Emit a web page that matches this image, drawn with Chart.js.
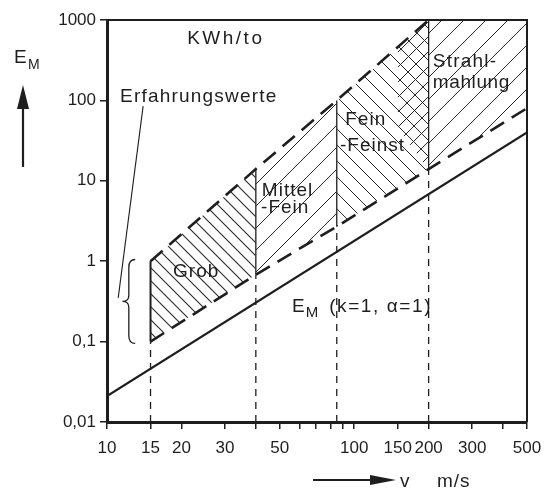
<!DOCTYPE html>
<html>
<head>
<meta charset="utf-8">
<script src="https://cdn.jsdelivr.net/npm/chart.js@4.4.1/dist/chart.umd.min.js"></script>
<style>
  html, body { margin: 0; padding: 0; background: #fff; }
  canvas { display: block; }
</style>
</head>
<body>
<canvas id="c" width="544" height="492"></canvas>
<script>
(function () {
  "use strict";
  // v in m/s, E_M in KWh/to
  const xTicks = [10, 15, 20, 30, 40, 50, 60, 70, 80, 90, 100, 150, 200, 300, 400, 500];
  const xLabels = [10, 15, 20, 30, 50, 100, 150, 200, 300, 500];
  const yTicks = [0.01, 0.1, 1, 10, 100, 1000];
  const yLabels = ["0,01", "0,1", "1", "10", "100", "1000"];

  // region edges (Grob | Mittel-Fein | Fein-Feinst | Strahlmahlung) and the dashed bounds there
  const edgeV = [15, 40, 85, 200, 500];
  const upperE = [1, 14, 100, 1000, 1000];
  const lowerE = [0.1, 0.68, 2.7, 14, 80];

  // E_M (k=1, a=1)
  const theoryV = [10, 500];
  const theoryE = [0.021, 40];

  // where the Strahlmahlung hatch runs over into Fein-Feinst
  const crossV = [150, 200];
  const crossUpper = [460, 1000];
  const crossLower = [45, 14];

  const ink = "#1e1e1e";
  const FONT = '"Liberation Sans", Arial, sans-serif';
  const canvas = document.getElementById("c");
  const cx = canvas.getContext("2d");

  function hatch(dir, s, lw) {
    const c = document.createElement("canvas");
    c.width = c.height = s;
    const g = c.getContext("2d");
    g.strokeStyle = "#2a2a2a";
    g.lineWidth = lw;
    g.beginPath();
    if (dir === "/") {
      g.moveTo(0, s); g.lineTo(s, 0);
      g.moveTo(-1, 1); g.lineTo(1, -1);
      g.moveTo(s - 1, s + 1); g.lineTo(s + 1, s - 1);
    } else {
      g.moveTo(0, 0); g.lineTo(s, s);
      g.moveTo(-1, s - 1); g.lineTo(1, s + 1);
      g.moveTo(s - 1, -1); g.lineTo(s + 1, 1);
    }
    g.stroke();
    return cx.createPattern(c, "repeat");
  }
  const patterns = [hatch("\\", 13, 1.1), hatch("/", 22, 1), hatch("\\", 16, 1), hatch("/", 22, 1)];
  const crossPattern = hatch("/", 15, 1);

  const pts = (vs, es) => vs.map((v, i) => ({ x: v, y: es[i] }));
  const line = (data, extra) =>
    Object.assign(
      { data, borderColor: ink, borderWidth: 1.3, pointRadius: 0, fill: false, tension: 0 },
      extra || {},
    );

  const datasets = [];
  for (let i = 0; i < 4; i++) {
    const vs = [edgeV[i], edgeV[i + 1]];
    datasets.push(line(pts(vs, [lowerE[i], lowerE[i + 1]]), { borderColor: "transparent" }));
    datasets.push(
      line(pts(vs, [upperE[i], upperE[i + 1]]), {
        borderColor: "transparent",
        fill: "-1",
        backgroundColor: patterns[i],
      }),
    );
  }
  datasets.push(line(pts(crossV, crossLower), { borderColor: "transparent" }));
  datasets.push(
    line(pts(crossV, crossUpper), { borderColor: "transparent", fill: "-1", backgroundColor: crossPattern }),
  );

  // bounds of the experience values
  datasets.push(line(pts(edgeV.slice(0, 4), upperE.slice(0, 4)), { borderWidth: 2.6, borderDash: [16, 9] }));
  datasets.push(line(pts(edgeV, lowerE), { borderWidth: 2.6, borderDash: [16, 9] }));
  // theoretical line
  datasets.push(line(pts(theoryV, theoryE), { borderWidth: 2.2 }));
  // region separators: solid inside the band, dashed below it
  for (let i = 0; i < 4; i++) {
    const v = edgeV[i];
    datasets.push(line(pts([v, v], [lowerE[i], upperE[i]]), { borderWidth: i === 0 ? 2 : 1.3 }));
    datasets.push(line(pts([v, v], [0.01, lowerE[i]]), { borderWidth: 1.3, borderDash: [7, 6] }));
  }

  const notes = [
    { t: "KWh/to", v: 21.1, e: 590, sp: 2.5 },
    { t: "Erfahrungswerte", v: 11.3, e: 112, sp: 1.2 },
    { t: "Grob", v: 18.5, e: 0.73, sp: 1 },
    { t: "Mittel", v: 42.3, e: 7.6, sp: 1 },
    { t: "-Fein", v: 42.0, e: 4.6, sp: 1 },
    { t: "Fein", v: 92, e: 57, sp: 1 },
    { t: "-Feinst", v: 87.6, e: 27, sp: 1 },
    { t: "Strahl-", v: 208, e: 300, sp: 1.2 },
    { t: "mahlung", v: 208, e: 165, sp: 0.6 },
  ];

  const decor = {
    id: "decor",
    afterDraw(chart) {
      const { ctx, chartArea: a, scales } = chart;
      const px = (v) => scales.x.getPixelForValue(v);
      const py = (e) => scales.y.getPixelForValue(e);
      ctx.save();
      ctx.strokeStyle = ink;
      ctx.fillStyle = ink;
      // top and right edge of the frame
      ctx.lineWidth = 2;
      ctx.beginPath();
      ctx.moveTo(a.left, a.top);
      ctx.lineTo(a.right, a.top);
      ctx.lineTo(a.right, a.bottom);
      ctx.stroke();

      ctx.textBaseline = "middle";
      ctx.textAlign = "left";
      ctx.font = "19px " + FONT;
      notes.forEach((n) => {
        ctx.letterSpacing = n.sp + "px";
        ctx.fillText(n.t, px(n.v), py(n.e));
      });

      // E_M (k=1, a=1)
      let x0 = px(56), y0 = py(0.27);
      ctx.letterSpacing = "1px";
      ctx.font = "19px " + FONT;
      ctx.fillText("E", x0, y0);
      x0 += ctx.measureText("E").width;
      ctx.font = "15px " + FONT;
      ctx.fillText("M", x0, y0 + 6);
      x0 += ctx.measureText("M").width + 10;
      ctx.font = "19px " + FONT;
      ctx.letterSpacing = "1.6px";
      ctx.fillText("(k=1, \u03b1=1)", x0, y0);

      // pointer of Erfahrungswerte
      ctx.lineWidth = 1.1;
      ctx.beginPath();
      ctx.moveTo(px(14), py(85));
      ctx.lineTo(px(11.1), py(0.35));
      ctx.stroke();

      // brace for Grob
      const xr = px(13), xt = px(11.55), xm = (xr + xt) / 2;
      const y1 = py(1.05), y2 = py(0.095), ym = (y1 + y2) / 2;
      ctx.lineWidth = 1.3;
      ctx.beginPath();
      ctx.moveTo(xr, y1);
      ctx.quadraticCurveTo(xm, y1, xm, y1 + 8);
      ctx.lineTo(xm, ym - 6);
      ctx.quadraticCurveTo(xm, ym, xt, ym);
      ctx.quadraticCurveTo(xm, ym, xm, ym + 6);
      ctx.lineTo(xm, y2 - 8);
      ctx.quadraticCurveTo(xm, y2, xr, y2);
      ctx.stroke();

      // axis titles with arrows
      ctx.textBaseline = "alphabetic";
      ctx.letterSpacing = "0px";
      ctx.font = "19px " + FONT;
      ctx.fillText("E", 14, 63);
      ctx.font = "14px " + FONT;
      ctx.fillText("M", 28, 69);
      ctx.lineWidth = 2.2;
      ctx.beginPath();
      ctx.moveTo(23, 167);
      ctx.lineTo(23, 104);
      ctx.stroke();
      ctx.beginPath();
      ctx.moveTo(17, 109);
      ctx.lineTo(23, 85);
      ctx.lineTo(29, 109);
      ctx.closePath();
      ctx.fill();

      ctx.beginPath();
      ctx.moveTo(313, 480);
      ctx.lineTo(378, 480);
      ctx.stroke();
      ctx.beginPath();
      ctx.moveTo(370, 475);
      ctx.lineTo(396, 480);
      ctx.lineTo(370, 485);
      ctx.closePath();
      ctx.fill();
      ctx.font = "19px " + FONT;
      ctx.letterSpacing = "1px";
      ctx.fillText("v", 400, 487);
      ctx.fillText("m/s", 437, 487);
      ctx.restore();
    },
  };

  const tickFont = { family: FONT, size: 17 };

  new Chart(canvas, {
    type: "line",
    data: { datasets },
    options: {
      responsive: false,
      animation: false,
      devicePixelRatio: 1,
      layout: { padding: { left: 0, top: 20, right: 17, bottom: 0 } },
      plugins: { legend: { display: false }, tooltip: { enabled: false } },
      scales: {
        x: {
          type: "logarithmic",
          min: 10,
          max: 500,
          afterBuildTicks: (s) => {
            s.ticks = xTicks.map((v) => ({ value: v }));
          },
          afterFit: (s) => {
            s.height = 70;
            s.paddingLeft = 0;
            s.paddingRight = 0;
          },
          ticks: {
            autoSkip: false,
            maxRotation: 0,
            padding: 9,
            color: ink,
            font: tickFont,
            callback: (v) => (xLabels.includes(v) ? String(v) : ""),
          },
          grid: { drawOnChartArea: false, drawTicks: true, tickLength: 7, color: ink, lineWidth: 1.5 },
          border: { color: ink, width: 3 },
        },
        y: {
          type: "logarithmic",
          min: 0.01,
          max: 1000,
          afterBuildTicks: (s) => {
            s.ticks = yTicks.map((v) => ({ value: v }));
          },
          afterFit: (s) => {
            s.width = 107;
            s.paddingTop = 0;
            s.paddingBottom = 0;
          },
          ticks: {
            autoSkip: false,
            padding: 4,
            color: ink,
            font: tickFont,
            callback: (v) => yLabels[yTicks.indexOf(v)],
          },
          grid: { drawOnChartArea: false, drawTicks: true, tickLength: 7, color: ink, lineWidth: 1.5 },
          border: { color: ink, width: 3 },
        },
      },
    },
    plugins: [decor],
  });
})();
</script>
</body>
</html>
